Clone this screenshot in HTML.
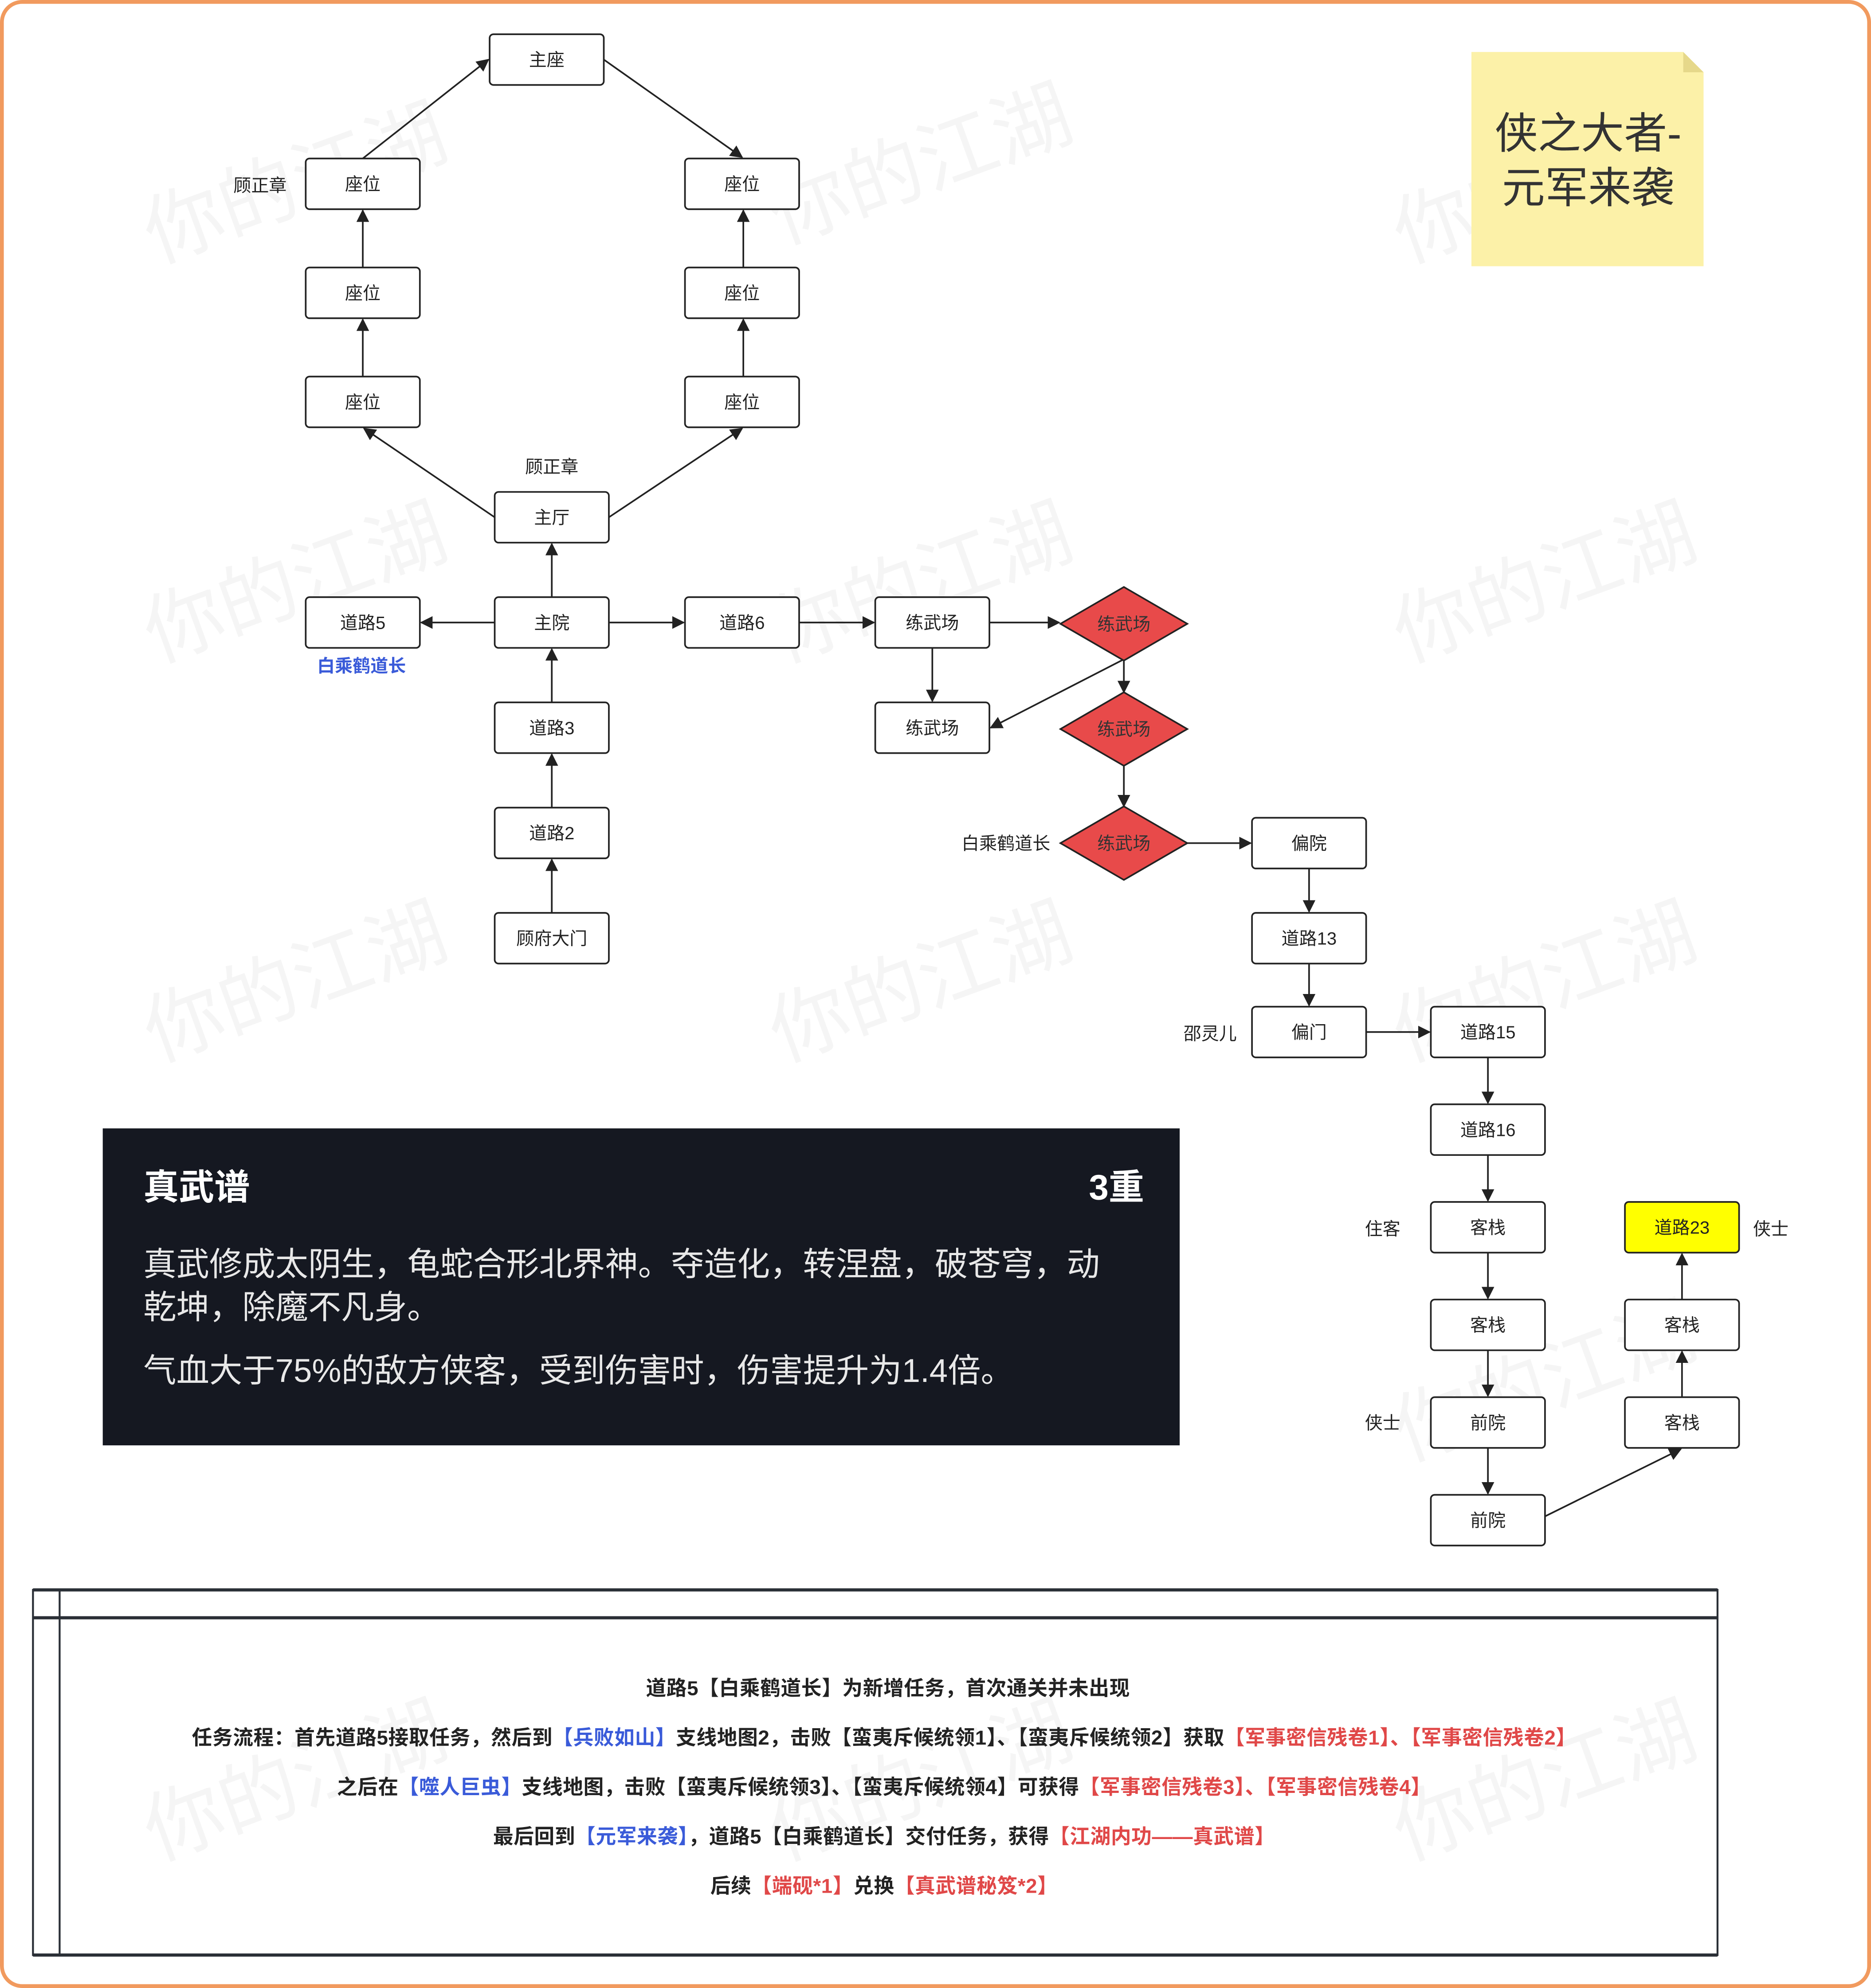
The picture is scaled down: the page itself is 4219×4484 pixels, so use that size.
<!DOCTYPE html>
<html><head><meta charset="utf-8"><style>
html,body{margin:0;padding:0;background:#fff;}
svg{display:block;}
text{font-family:"Liberation Sans","Noto Sans CJK SC",sans-serif;}
</style></head><body>
<svg xmlns="http://www.w3.org/2000/svg" width="4219" height="4484" viewBox="0 0 1475 1568" preserveAspectRatio="none">
<defs>
<marker id="a" markerWidth="10" markerHeight="10" refX="9" refY="5" orient="auto" markerUnits="userSpaceOnUse"><path d="M0,0 L10,5 L0,10 z" fill="#222"/></marker>
</defs>
<rect x="0" y="0" width="1475" height="1568" fill="#fff"/>
<rect x="1.5" y="1.5" width="1472" height="1565" rx="16" fill="none" stroke="#f19a5e" stroke-width="3"/>
<g fill="#000" fill-opacity="0.04" font-size="62" text-anchor="middle">
<text transform="translate(240,165) rotate(-20)">你的江湖</text>
<text transform="translate(733,150) rotate(-20)">你的江湖</text>
<text transform="translate(1225,165) rotate(-20)">你的江湖</text>
<text transform="translate(240,480) rotate(-20)">你的江湖</text>
<text transform="translate(733,480) rotate(-20)">你的江湖</text>
<text transform="translate(1225,480) rotate(-20)">你的江湖</text>
<text transform="translate(240,795) rotate(-20)">你的江湖</text>
<text transform="translate(733,795) rotate(-20)">你的江湖</text>
<text transform="translate(1225,795) rotate(-20)">你的江湖</text>
<text transform="translate(1225,1110) rotate(-20)">你的江湖</text>
<text transform="translate(240,1425) rotate(-20)">你的江湖</text>
<text transform="translate(733,1425) rotate(-20)">你的江湖</text>
<text transform="translate(1225,1425) rotate(-20)">你的江湖</text>
</g>
<path d="M1160,41 H1327 L1343,57 V210 H1160 Z" fill="#fcf1a8"/>
<path d="M1327,41 L1343,57 H1327 Z" fill="#e6d88a"/>
<text x="1252" y="117" font-size="34" text-anchor="middle" fill="#333">侠之大者-</text>
<text x="1252" y="160" font-size="34" text-anchor="middle" fill="#333">元军来袭</text>
<g stroke="#222" stroke-width="1.3" fill="none" marker-end="url(#a)">
<line x1="286" y1="297" x2="286" y2="252"/>
<line x1="286" y1="211" x2="286" y2="166"/>
<line x1="286" y1="125" x2="385" y2="47"/>
<line x1="476" y1="47" x2="585" y2="124"/>
<line x1="586" y1="297" x2="586" y2="252"/>
<line x1="586" y1="211" x2="586" y2="166"/>
<line x1="390" y1="408" x2="287" y2="338"/>
<line x1="480" y1="408" x2="585" y2="338"/>
<line x1="435" y1="471" x2="435" y2="429"/>
<line x1="390" y1="491" x2="332" y2="491"/>
<line x1="480" y1="491" x2="539" y2="491"/>
<line x1="630" y1="491" x2="689" y2="491"/>
<line x1="780" y1="491" x2="835" y2="491"/>
<line x1="735" y1="511" x2="735" y2="553"/>
<line x1="886" y1="520" x2="781" y2="574"/>
<line x1="886" y1="520" x2="886" y2="546"/>
<line x1="886" y1="604" x2="886" y2="636"/>
<line x1="936" y1="665" x2="986" y2="665"/>
<line x1="1032" y1="685" x2="1032" y2="719"/>
<line x1="1032" y1="760" x2="1032" y2="793"/>
<line x1="1077" y1="814" x2="1127" y2="814"/>
<line x1="1173" y1="834" x2="1173" y2="870"/>
<line x1="1173" y1="911" x2="1173" y2="947"/>
<line x1="1173" y1="988" x2="1173" y2="1024"/>
<line x1="1173" y1="1065" x2="1173" y2="1101"/>
<line x1="1173" y1="1142" x2="1173" y2="1178"/>
<line x1="1218" y1="1196" x2="1325" y2="1143"/>
<line x1="1326" y1="1102" x2="1326" y2="1066"/>
<line x1="1326" y1="1025" x2="1326" y2="989"/>
<line x1="435" y1="554" x2="435" y2="512"/>
<line x1="435" y1="637" x2="435" y2="595"/>
<line x1="435" y1="720" x2="435" y2="678"/>
</g>
<g font-size="14" text-anchor="middle" fill="#222">
<g stroke="#222" stroke-width="1.3" fill="#fff">
<rect x="386" y="27" width="90" height="40" rx="3"/>
<rect x="241" y="125" width="90" height="40" rx="3"/>
<rect x="241" y="211" width="90" height="40" rx="3"/>
<rect x="241" y="297" width="90" height="40" rx="3"/>
<rect x="540" y="125" width="90" height="40" rx="3"/>
<rect x="540" y="211" width="90" height="40" rx="3"/>
<rect x="540" y="297" width="90" height="40" rx="3"/>
<rect x="390" y="388" width="90" height="40" rx="3"/>
<rect x="390" y="471" width="90" height="40" rx="3"/>
<rect x="241" y="471" width="90" height="40" rx="3"/>
<rect x="540" y="471" width="90" height="40" rx="3"/>
<rect x="690" y="471" width="90" height="40" rx="3"/>
<rect x="690" y="554" width="90" height="40" rx="3"/>
<rect x="390" y="554" width="90" height="40" rx="3"/>
<rect x="390" y="637" width="90" height="40" rx="3"/>
<rect x="390" y="720" width="90" height="40" rx="3"/>
<rect x="987" y="645" width="90" height="40" rx="3"/>
<rect x="987" y="720" width="90" height="40" rx="3"/>
<rect x="987" y="794" width="90" height="40" rx="3"/>
<rect x="1128" y="794" width="90" height="40" rx="3"/>
<rect x="1128" y="871" width="90" height="40" rx="3"/>
<rect x="1128" y="948" width="90" height="40" rx="3"/>
<rect x="1128" y="1025" width="90" height="40" rx="3"/>
<rect x="1128" y="1102" width="90" height="40" rx="3"/>
<rect x="1128" y="1179" width="90" height="40" rx="3"/>
<rect x="1281" y="948" width="90" height="40" rx="3" fill="#ffff00"/>
<rect x="1281" y="1025" width="90" height="40" rx="3"/>
<rect x="1281" y="1102" width="90" height="40" rx="3"/>
<path d="M886,463 L936,492 L886,521 L836,492 Z" fill="#e84a4a"/>
<path d="M886,546 L936,575 L886,604 L836,575 Z" fill="#e84a4a"/>
<path d="M886,636 L936,665 L886,694 L836,665 Z" fill="#e84a4a"/>
</g>
<text x="431" y="52">主座</text>
<text x="286" y="150">座位</text><text x="286" y="236">座位</text><text x="286" y="322">座位</text>
<text x="585" y="150">座位</text><text x="585" y="236">座位</text><text x="585" y="322">座位</text>
<text x="435" y="413">主厅</text><text x="435" y="496">主院</text>
<text x="286" y="496">道路5</text><text x="585" y="496">道路6</text>
<text x="735" y="496">练武场</text><text x="735" y="579">练武场</text>
<text x="435" y="579">道路3</text><text x="435" y="662">道路2</text><text x="435" y="745">顾府大门</text>
<text x="1032" y="670">偏院</text><text x="1032" y="745">道路13</text><text x="1032" y="819">偏门</text>
<text x="1173" y="819">道路15</text><text x="1173" y="896">道路16</text><text x="1173" y="973">客栈</text>
<text x="1173" y="1050">客栈</text><text x="1173" y="1127">前院</text><text x="1173" y="1204">前院</text>
<text x="1326" y="973">道路23</text><text x="1326" y="1050">客栈</text><text x="1326" y="1127">客栈</text>
<text x="886" y="497" fill="#333">练武场</text><text x="886" y="580" fill="#333">练武场</text><text x="886" y="670" fill="#333">练武场</text>
<text x="205" y="151">顾正章</text><text x="435" y="373">顾正章</text>
<text x="285" y="530" fill="#3a5bd9" font-weight="bold">白乘鹤道长</text>
<text x="793" y="670">白乘鹤道长</text>
<text x="954" y="820">邵灵儿</text>
<text x="1090" y="974">住客</text><text x="1090" y="1127">侠士</text><text x="1396" y="974">侠士</text>
</g>
<rect x="81" y="890" width="849" height="250" fill="#151821"/>
<g fill="#fff" font-size="28">
<text x="113" y="946" font-weight="bold">真武谱</text>
<text x="902" y="946" font-weight="bold" text-anchor="end">3重</text>
</g>
<g fill="#e8e8e8" font-size="26">
<text x="113" y="1006">真武修成太阴生，龟蛇合形北界神。夺造化，转涅盘，破苍穹，动</text>
<text x="113" y="1040">乾坤，除魔不凡身。</text>
<text x="113" y="1090">气血大于75%的敌方侠客，受到伤害时，伤害提升为1.4倍。</text>
</g>
<g stroke="#2a2f36" fill="none">
<rect x="26" y="1254" width="1328" height="288" stroke-width="1.5"/>
<line x1="26" y1="1254" x2="1354" y2="1254" stroke-width="2.5"/>
<line x1="26" y1="1276" x2="1354" y2="1276" stroke-width="2.5"/>
<line x1="26" y1="1542" x2="1354" y2="1542" stroke-width="2.5"/>
<line x1="47" y1="1254" x2="47" y2="1542" stroke-width="1.5"/>
</g>
<g font-size="16" font-weight="bold" text-anchor="middle" fill="#222" letter-spacing="0.2">
<text x="700" y="1337">道路5【白乘鹤道长】为新增任务，首次通关并未出现</text>
<text x="697" y="1376">任务流程：首先道路5接取任务，然后到<tspan fill="#3a5bd9">【兵败如山】</tspan>支线地图2，击败【蛮夷斥候统领1】、【蛮夷斥候统领2】获取<tspan fill="#e04848">【军事密信残卷1】、【军事密信残卷2】</tspan></text>
<text x="697" y="1415">之后在<tspan fill="#3a5bd9">【噬人巨虫】</tspan>支线地图，击败【蛮夷斥候统领3】、【蛮夷斥候统领4】可获得<tspan fill="#e04848">【军事密信残卷3】、【军事密信残卷4】</tspan></text>
<text x="697" y="1454">最后回到<tspan fill="#3a5bd9">【元军来袭】</tspan>，道路5【白乘鹤道长】交付任务，获得<tspan fill="#e04848">【江湖内功——真武谱】</tspan></text>
<text x="697" y="1493">后续<tspan fill="#e04848">【端砚*1】</tspan>兑换<tspan fill="#e04848">【真武谱秘笈*2】</tspan></text>
</g>
</svg>
</body></html>
